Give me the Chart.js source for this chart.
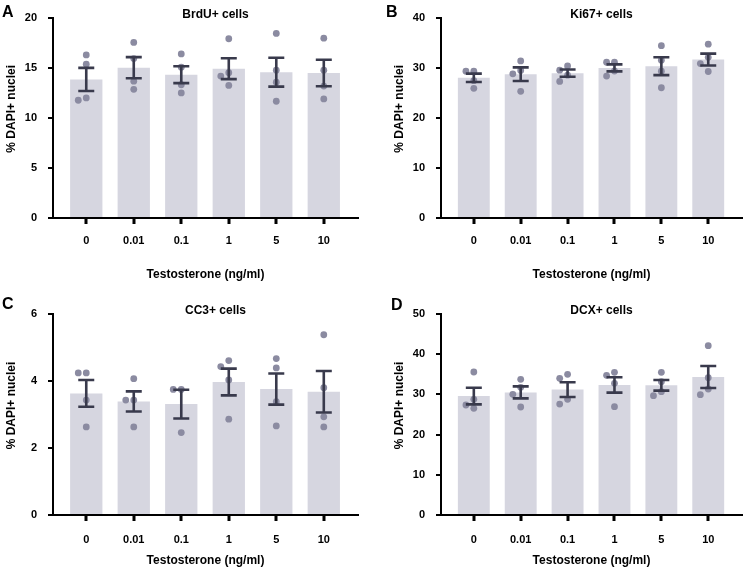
<!DOCTYPE html>
<html>
<head>
<meta charset="utf-8">
<script src="https://cdn.jsdelivr.net/npm/chart.js@4.4.1/dist/chart.umd.min.js"></script>
<style>
  body { margin: 0; background: #fff; }
  #wrap { position: relative; width: 746px; height: 568px; }
  canvas { position: absolute; }
</style>
</head>
<body>
<div id="wrap">
  <canvas id="chartA" width="373" height="284" style="left:0;top:0"></canvas>
  <canvas id="chartB" width="373" height="284" style="left:373px;top:0"></canvas>
  <canvas id="chartC" width="373" height="284" style="left:0;top:284px"></canvas>
  <canvas id="chartD" width="373" height="284" style="left:373px;top:284px"></canvas>
</div>
<script>
const categories = ['0', '0.01', '0.1', '1', '5', '10'];

// A - BrdU+ cells
const brduMean = [13.83, 15.0, 14.3, 14.9, 14.55, 14.47];
const brduSem = [1.15, 1.06, 0.84, 1.04, 1.44, 1.32];
const brduPoints = [[16.27, 15.35, 11.98, 11.75], [17.52, 15.91, 13.66, 12.84], [16.37, 15.05, 13.3, 12.48],
                    [17.89, 14.5, 14.16, 13.23], [18.42, 14.75, 13.56, 11.65], [17.95, 14.75, 13.17, 11.88]];
const brduTicks = [0, 5, 10, 15, 20];

// B - Ki67+ cells
const ki67Mean = [27.98, 28.71, 28.91, 29.96, 30.3, 31.63];
const ki67Sem = [0.83, 1.35, 0.72, 0.7, 1.78, 1.18];
const ki67Points = [[29.31, 29.31, 27.42, 25.88], [31.35, 29.44, 28.77, 25.29], [30.36, 29.5, 28.5, 27.26],
                    [31.09, 31.09, 29.34, 28.32], [34.39, 31.5, 29.3, 26.0], [34.7, 32.08, 30.83, 29.24]];
const ki67Ticks = [0, 10, 20, 30, 40];

// C - CC3+ cells
const cc3Mean = [3.63, 3.39, 3.31, 3.97, 3.76, 3.68];
const cc3Sem = [0.4, 0.3, 0.43, 0.4, 0.465, 0.62];
const cc3Points = [[4.24, 4.24, 3.43, 2.63], [4.07, 3.43, 3.43, 2.63], [3.75, 3.75, 2.46],
                   [4.61, 4.43, 4.03, 2.86], [4.67, 4.39, 3.38, 2.66], [5.38, 3.8, 2.93, 2.63]];
const cc3Ticks = [0, 2, 4, 6];

// D - DCX+ cells
const dcxMean = [29.6, 30.5, 31.2, 32.35, 32.26, 34.33];
const dcxSem = [2.07, 1.49, 1.83, 1.9, 1.33, 2.73];
const dcxPoints = [[35.57, 28.77, 27.36, 26.53], [33.75, 31.76, 30.02, 26.87], [35.0, 34.0, 28.77, 27.6],
                   [35.49, 34.75, 32.76, 26.94], [35.49, 33.16, 30.67, 29.68], [42.12, 34.16, 31.34, 29.93]];
const dcxTicks = [0, 10, 20, 30, 40, 50];

const xTitle = 'Testosterone (ng/ml)';
const yTitle = '% DAPI+ nuclei';

const barColor = '#d6d6e0';
const dotColor = '#8b8ba1';
const errColor = '#393a4c';
const fontFamily = "'Liberation Sans', Arial, sans-serif";

const xMin = -0.7, xMax = 5.72;

// error bars (mean +/- SEM) on top of bars and dots
const errorBars = {
  id: 'errorBars',
  afterDatasetsDraw(chart, args, opts) {
    const meta = chart.getDatasetMeta(0);
    const y = chart.scales.y;
    const ctx = chart.ctx;
    ctx.save();
    ctx.strokeStyle = errColor;
    ctx.lineWidth = 2.6;
    meta.data.forEach((bar, i) => {
      const m = opts.mean[i], s = opts.sem[i];
      const top = y.getPixelForValue(m + s);
      const bot = y.getPixelForValue(m - s);
      ctx.beginPath();
      ctx.moveTo(bar.x, top); ctx.lineTo(bar.x, bot);
      ctx.moveTo(bar.x - 8, top); ctx.lineTo(bar.x + 8, top);
      ctx.moveTo(bar.x - 8, bot); ctx.lineTo(bar.x + 8, bot);
      ctx.stroke();
    });
    ctx.restore();
  }
};

// panel title, letter, y title and the x tick marks under each bar
const panelText = {
  id: 'panelText',
  afterDraw(chart, args, opts) {
    const ctx = chart.ctx;
    const a = chart.chartArea;
    const meta = chart.getDatasetMeta(0);
    ctx.save();
    ctx.fillStyle = '#000';
    meta.data.forEach(bar => {
      ctx.fillRect(Math.round(bar.x) - 1.5, a.bottom, 3, 6);
    });
    ctx.textBaseline = 'middle';
    ctx.textAlign = 'center';
    ctx.font = 'bold 12px ' + fontFamily;
    ctx.fillText(opts.title, (a.left + a.right) / 2 + 10, a.top - 3);
    ctx.save();
    ctx.translate(opts.yx, (a.top + a.bottom) / 2 - 9);
    ctx.rotate(-Math.PI / 2);
    ctx.fillText(yTitle, 0, 0);
    ctx.restore();
    ctx.textAlign = 'left';
    ctx.font = 'bold 16px ' + fontFamily;
    ctx.fillText(opts.letter, opts.lx, opts.ly);
    ctx.restore();
  }
};

// side-by-side placement of dots that would overlap (like a column scatter)
function spread(values, pxPerY, pxPerX) {
  const placed = [];
  return values.map(v => {
    const py = v * pxPerY;
    for (const k of [0, -1, 1, -2, 2]) {
      const px = k * 8;
      if (placed.every(p => Math.hypot(p.x - px, p.y - py) >= 7)) {
        placed.push({x: px, y: py});
        return px / pxPerX;
      }
    }
    placed.push({x: 0, y: py});
    return 0;
  });
}

function makePanel(id, title, letter, mean, sem, points, yTicks, lay) {
  const plotH = 284 - lay.padTop - lay.xAxisH;
  const plotW = 373 - lay.yAxisW - lay.padRight;
  const yMax = yTicks[yTicks.length - 1];
  const pxPerY = plotH / yMax;
  const pxPerX = plotW / (xMax - xMin);

  const dots = [];
  points.forEach((grp, i) => {
    const offs = spread(grp, pxPerY, pxPerX);
    grp.forEach((v, j) => dots.push({x: i + offs[j], y: v}));
  });

  const tickFont = {family: fontFamily, size: 11, weight: 'bold'};
  const titleFont = {family: fontFamily, size: 12, weight: 'bold'};

  new Chart(document.getElementById(id), {
    type: 'bar',
    data: {
      datasets: [{
        type: 'bar',
        order: 2,
        data: mean.map((v, i) => ({x: i, y: v})),
        backgroundColor: barColor,
        barPercentage: 0.68,
        categoryPercentage: 1
      }, {
        type: 'scatter',
        order: 1,
        data: dots,
        pointRadius: 3.4,
        pointBackgroundColor: dotColor,
        pointBorderWidth: 0
      }]
    },
    options: {
      responsive: false,
      animation: false,
      devicePixelRatio: 1,
      layout: {padding: {top: lay.padTop, right: lay.padRight, left: 0, bottom: 0}},
      plugins: {
        legend: {display: false},
        tooltip: {enabled: false},
        errorBars: {mean: mean, sem: sem},
        panelText: {title: title, letter: letter, lx: lay.lx, ly: lay.ly, yx: lay.yx}
      },
      scales: {
        x: {
          type: 'linear',
          min: xMin,
          max: xMax,
          offset: false,
          afterBuildTicks: s => { s.ticks = categories.map((c, i) => ({value: i})); },
          afterFit: s => { s.height = lay.xAxisH; },
          ticks: {
            autoSkip: false,
            maxRotation: 0,
            padding: lay.tickPad + 5,
            color: '#000',
            font: tickFont,
            callback: v => categories[v]
          },
          grid: {offset: false, drawOnChartArea: false, drawTicks: false},
          border: {display: true, color: '#000', width: 2},
          title: {display: true, text: xTitle, color: '#000', font: titleFont, padding: {top: 0, bottom: lay.xTitlePad}}
        },
        y: {
          min: 0,
          max: yMax,
          afterBuildTicks: s => { s.ticks = yTicks.map(v => ({value: v})); },
          afterFit: s => { s.width = lay.yAxisW; },
          ticks: {padding: 11, color: '#000', font: tickFont},
          grid: {drawOnChartArea: false, drawTicks: true, tickLength: 5, color: '#000', lineWidth: 2},
          border: {display: true, color: '#000', width: 2}
        }
      }
    },
    plugins: [errorBars, panelText]
  });
}

const topRow = {padTop: 16, xAxisH: 66, tickPad: 11, xTitlePad: 2};
const bottomRow = {padTop: 30, xAxisH: 53, tickPad: 13, xTitlePad: 0};
const leftCol = {yAxisW: 53, padRight: 15, yx: 12};
const rightCol = {yAxisW: 68, padRight: 0, yx: 27};

makePanel('chartA', 'BrdU+ cells', 'A', brduMean, brduSem, brduPoints, brduTicks,
  Object.assign({lx: 2, ly: 13}, topRow, leftCol));
makePanel('chartB', 'Ki67+ cells', 'B', ki67Mean, ki67Sem, ki67Points, ki67Ticks,
  Object.assign({lx: 13, ly: 13}, topRow, rightCol));
makePanel('chartC', 'CC3+ cells', 'C', cc3Mean, cc3Sem, cc3Points, cc3Ticks,
  Object.assign({lx: 2, ly: 21}, bottomRow, leftCol));
makePanel('chartD', 'DCX+ cells', 'D', dcxMean, dcxSem, dcxPoints, dcxTicks,
  Object.assign({lx: 18, ly: 22}, bottomRow, rightCol));
</script>
</body>
</html>
